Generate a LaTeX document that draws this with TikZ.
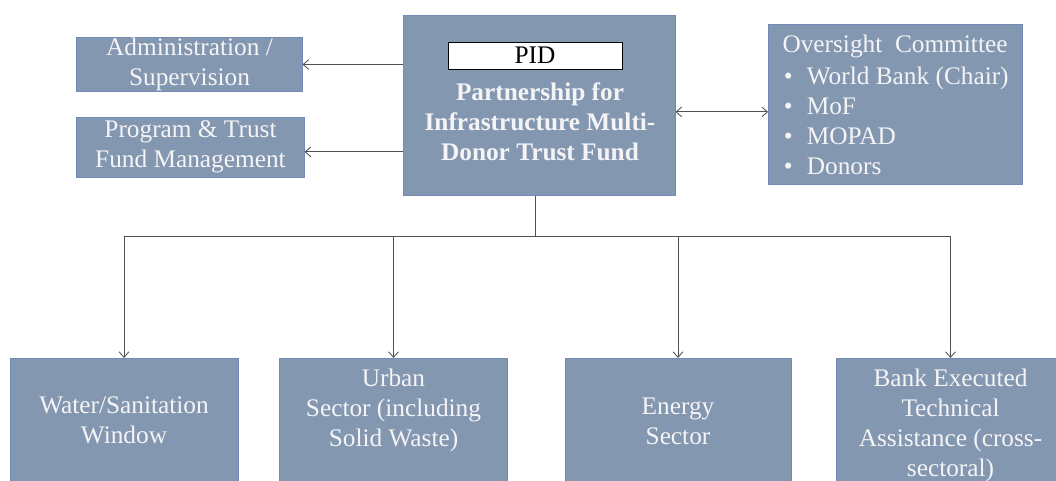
\documentclass[tikz,border=0pt]{standalone}
\usepackage{fontspec}
\newfontfamily\boxfont{Liberation Serif}
\usetikzlibrary{arrows.meta}

\definecolor{boxfill}{RGB}{132,151,176}
\definecolor{boxline}{RGB}{112,140,180}
\definecolor{boxtext}{RGB}{244,244,246}
\definecolor{wire}{RGB}{80,80,80}

\tikzset{
  unitbox/.style={rectangle, fill=boxfill, draw=boxline, line width=0.6pt, inner sep=0pt},
  boxlabel/.style={text=boxtext, align=center, font=\boxfont\fontsize{18}{21.3}\selectfont},
  conn/.style={draw=wire, line width=0.6pt, -{Straight Barb[length=4pt,width=7pt]}},
  bothways/.style={conn, {Straight Barb[length=4pt,width=7pt]}-{Straight Barb[length=4pt,width=7pt]}},
}

\begin{document}
\begin{tikzpicture}[x=0.025cm, y=-0.025cm]
  \useasboundingbox (0,0) rectangle (1056,480);
  \clip (0,0) rectangle (1056,480);

  % top row
  \node[unitbox, boxlabel, minimum width=5.63cm, minimum height=1.33cm] (admin) at (189.5,64.5)
    {Administration /\\Supervision};
  \node[unitbox, boxlabel, minimum width=5.68cm, minimum height=1.5cm] (prog) at (190.5,147)
    {Program \& Trust\\Fund Management};

  \node[unitbox, minimum width=6.8cm, minimum height=4.48cm] (main) at (539,105.5) {};
  \node[draw=black, fill=white, line width=0.6pt, minimum width=4.35cm, minimum height=0.675cm,
        inner sep=0pt, font=\boxfont\fontsize{18}{21.3}\selectfont] (pid) at (535,55.5) {PID};
  \node[boxlabel, font=\boxfont\fontsize{18}{21.3}\selectfont\bfseries] (pidname) at (540,122)
    {Partnership for\\Infrastructure Multi-\\Donor Trust Fund};

  \node[unitbox, minimum width=6.35cm, minimum height=3.98cm] (over) at (895.5,104.5) {};
  \node[boxlabel] (overtitle) at (895,46) {Oversight\ \ Committee};
  \node[boxlabel, align=left, anchor=west] (overlist) at (779,121)
    {\textbullet\hspace{0.35cm}World Bank (Chair)\\
     \textbullet\hspace{0.35cm}MoF\\
     \textbullet\hspace{0.35cm}MOPAD\\
     \textbullet\hspace{0.35cm}Donors};

  % sector windows
  \node[unitbox, anchor=north, minimum width=5.7cm, minimum height=3.6cm] (water)  at (124,358) {};
  \node[unitbox, anchor=north, minimum width=5.68cm, minimum height=3.6cm] (urban)  at (393.5,358) {};
  \node[unitbox, anchor=north, minimum width=5.65cm, minimum height=3.6cm] (energy) at (678,358) {};
  \node[unitbox, anchor=north, minimum width=5.68cm, minimum height=3.6cm] (bank)   at (950.5,358) {};

  \node[boxlabel] (watertxt)  at (124,420)   {Water/Sanitation\\Window};
  \node[boxlabel] (urbantxt)  at (393.5,410) {Urban\\Sector (including\\Solid Waste)};
  \node[boxlabel] (energytxt) at (678,421)   {Energy\\Sector};
  \node[boxlabel] (banktxt)   at (950.5,425) {Bank Executed\\Technical\\Assistance (cross-\\sectoral)};

  % links
  \draw[conn] (admin.east -| main.west) -- (admin.east);
  \draw[conn] ([yshift=-0.12cm]prog.east -| main.west) -- ([yshift=-0.12cm]prog.east);
  \draw[bothways] ([yshift=-0.16cm]main.east) -- ([yshift=-0.16cm]main.east -| over.west);

  \coordinate (bus) at (535,236);
  \draw[draw=wire, line width=0.6pt] (main.south -| bus) -- (bus);
  \draw[draw=wire, line width=0.6pt] (water.north |- bus) -- (bank.north |- bus);
  \foreach \s in {water,urban,energy,bank}
    \draw[conn] (\s.north |- bus) -- (\s.north);
\end{tikzpicture}
\end{document}
